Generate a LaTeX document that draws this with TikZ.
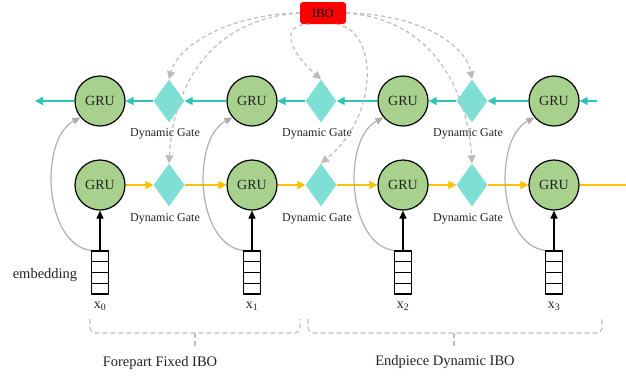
\documentclass[tikz,border=0pt]{standalone}
\usepackage{fontspec}
\setmainfont{Liberation Serif}
\usetikzlibrary{shapes.geometric,arrows.meta,calc}
\definecolor{grufill}{HTML}{A9D18E}
\definecolor{gatefill}{HTML}{7FDFD4}
\definecolor{tealc}{HTML}{2EC4B6}
\definecolor{orangec}{HTML}{FFC000}
\definecolor{dashc}{HTML}{BDBDBD}
\definecolor{curvec}{HTML}{AFAFAF}
\definecolor{txtc}{HTML}{222222}
\begin{document}
\begin{tikzpicture}[x=1pt,y=-1pt,
  gru/.style={circle, draw=black, line width=1.2pt, fill=grufill, minimum size=50pt, inner sep=0pt, font=\fontsize{14}{14}\selectfont, text=txtc},
  gate/.style={diamond, fill=gatefill, minimum width=31pt, minimum height=43pt, inner sep=0pt},
  gatelabel/.style={font=\fontsize{12}{12}\selectfont, text=txtc},
  embbox/.style={draw=black, line width=1.2pt, minimum width=17pt, minimum height=43pt, inner sep=0pt},
  tealarrow/.style={draw=tealc, line width=1.4pt, -{Triangle[length=8pt,width=8pt]}},
  orangearrow/.style={draw=orangec, line width=1.4pt, -{Triangle[length=8pt,width=8pt]}},
  inarrow/.style={draw=black, line width=1.4pt, -{Triangle[length=8pt,width=7pt]}},
  recur/.style={draw=curvec, line width=1.2pt, -{Triangle[length=8pt,width=7pt]}},
  ibolink/.style={draw=dashc, line width=1.2pt, dash pattern=on 4pt off 3pt, -{Triangle[length=8pt,width=8pt]}},
  bracepath/.style={draw=dashc, line width=1.1pt, dash pattern=on 5pt off 3pt, rounded corners=5pt},
  bigtext/.style={font=\fontsize{14.5}{14.5}\selectfont, text=txtc}
]
\useasboundingbox (0,0) rectangle (626,376);

% IBO
\node[fill=red, rounded corners=3pt, minimum width=46pt, minimum height=22pt, inner sep=0pt, font=\fontsize{12.5}{12.5}\selectfont] (ibo) at (323,13) {IBO};

% GRUs
\foreach \i/\x in {1/100,2/252,3/403,4/554}{
  \node[gru] (g\i) at (\x,101) {GRU};
  \node[gru] (b\i) at (\x,185) {GRU};
}
% gates
\foreach \i/\x in {1/169,2/321,3/472}{
  \node[gate] (d\i) at (\x,101) {};
  \node[gate] (e\i) at (\x,185) {};
  \node[gatelabel] (dl\i) at (\x-4,134) {Dynamic Gate};
  \node[gatelabel] (el\i) at (\x-4,219) {Dynamic Gate};
}
% embeddings
\foreach \i/\x in {0/100,1/252,2/403,3/554}{
  \node[embbox] (m\i) at (\x,272.5) {};
  \foreach \k in {1,2,3}{
    \draw[line width=1.2pt] ($(m\i.north west)!\k/4!(m\i.south west)$) -- ($(m\i.north east)!\k/4!(m\i.south east)$);
  }
  \node[bigtext, font=\fontsize{14}{14}\selectfont] (xl\i) at (\x,306) {x\textsubscript{\i}};
}
\node[bigtext] (emblabel) at (45,275) {embedding};

% top row (backward, teal)
\coordinate (tr) at (597,101);
\coordinate (tl) at (35,101);
\draw[tealarrow] (tr) -- (g4);
\draw[tealarrow] (g4) -- (d3.east);
\draw[tealarrow] (d3.west) -- (g3);
\draw[tealarrow] (g3) -- (d2.east);
\draw[tealarrow] (d2.west) -- (g2);
\draw[tealarrow] (g2) -- (d1.east);
\draw[tealarrow] (d1.west) -- (g1);
\draw[tealarrow] (g1) -- (tl);

% bottom row (forward, orange)
\coordinate (br) at (626,185);
\draw[orangearrow] (b1) -- (e1.west);
\draw[orangearrow] (e1.east) -- (b2);
\draw[orangearrow] (b2) -- (e2.west);
\draw[orangearrow] (e2.east) -- (b3);
\draw[orangearrow] (b3) -- (e3.west);
\draw[orangearrow] (e3.east) -- (b4);
\draw[draw=orangec, line width=1.4pt] (b4) -- (br);

% inputs
\foreach \i/\j in {0/1,1/2,2/3,3/4}{
  \draw[inarrow] (m\i.north) -- (b\j.south);
  \draw[recur] (m\i.north west) .. controls ($(m\i.north west)+(-47,-6)$) and ($(m\i.north west)+(-52,-111)$) .. (g\j.220);
}

% IBO links
\draw[ibolink] (ibo.west) .. controls (230,14) and (178,45) .. (d1.north);
\draw[ibolink] (ibo.west) .. controls (200,20) and (172,100) .. (e1.north);
\draw[ibolink] (ibo.220) .. controls (280,24) and (288,50) .. (d2.north);
\draw[ibolink] (ibo.320) .. controls (378,30) and (380,115) .. (e2.north);
\draw[ibolink] (ibo.east) .. controls (420,14) and (466,45) .. (d3.north);
\draw[ibolink] (ibo.east) .. controls (440,20) and (468,100) .. (e3.north);

% braces
\draw[bracepath] (90,319) -- (90,333) -- (300,333) -- (300,319);
\draw[bracepath] (195,333) -- (195,346);
\draw[bracepath] (308,319) -- (308,333) -- (602,333) -- (602,319);
\draw[bracepath] (454,333) -- (454,346);
\node[bigtext] (fore) at (160,363) {Forepart Fixed IBO};
\node[bigtext] (endp) at (445,362) {Endpiece Dynamic IBO};
\end{tikzpicture}
\end{document}
